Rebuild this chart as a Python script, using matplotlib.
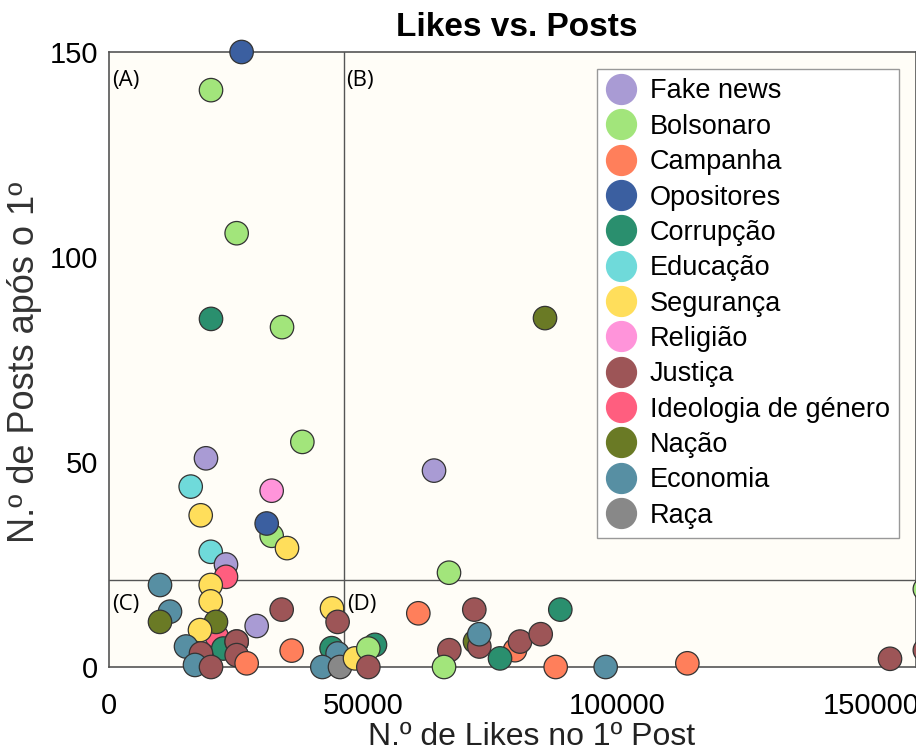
import matplotlib
matplotlib.use("Agg")
import matplotlib.pyplot as plt
from matplotlib.lines import Line2D

plt.rcParams['font.family'] = ['Liberation Sans', 'DejaVu Sans']

categories = ['Fake news', 'Bolsonaro', 'Campanha', 'Opositores', 'Corrupção', 'Educação',
              'Segurança', 'Religião', 'Justiça', 'Ideologia de género', 'Nação', 'Economia', 'Raça']
colors = ['#A99BD4', '#A2E57B', '#FF7F5B', '#3B5FA0', '#2A8F6E', '#6FDADA',
          '#FFDE5B', '#FF94DA', '#9D5557', '#FF5E7F', '#6A7A25', '#578FA3', '#888888']

# likes on first post, posts after first, topic (drawing order)
likes = [26100, 20080, 25130, 20080, 34060, 38060, 19090, 16080, 32020, 18050,
         32020, 31040, 35040, 20020, 23030, 23030, 10040, 20020, 20020, 12010,
         10040, 33990, 43900, 45000, 21200, 22500, 25130, 29070, 21060, 17910,
         15160, 25130, 25130, 27100, 18110, 16930, 20080, 35960, 43820, 45000,
         41990, 45470, 48430, 52360, 51050, 51050, 66930, 60890, 71910, 88840,
         66990, 65950, 72050, 72900, 72900, 79920, 80910, 76970, 84980, 87930,
         97770, 113850, 153740, 160600, 160600, 63980, 85830]
posts = [150, 140.7, 105.8, 84.9, 82.9, 54.9, 50.9, 44, 43, 37,
         32, 35, 29, 28.1, 25, 22, 20, 20, 16, 13.5,
         11, 14, 14.3, 11, 7.5, 4.5, 6.2, 10, 11, 9,
         5, 6.2, 2.9, 0.9, 3.3, 0.5, 0, 4, 4.6, 3.3,
         0, 0, 2.1, 5.4, 4.5, 0, 23, 13.1, 14, 14,
         4.1, 0, 6.2, 5, 8, 4.1, 6.2, 2.1, 8, 0,
         0, 0.9, 2, 4.1, 19, 47.9, 85.1]
topic = ['Opositores', 'Bolsonaro', 'Bolsonaro', 'Corrupção', 'Bolsonaro', 'Bolsonaro', 'Fake news',
         'Educação', 'Religião', 'Segurança', 'Bolsonaro', 'Opositores', 'Segurança', 'Educação',
         'Fake news', 'Ideologia de género', 'Economia', 'Segurança', 'Segurança', 'Economia',
         'Nação', 'Justiça', 'Segurança', 'Justiça', 'Ideologia de género', 'Corrupção', 'Justiça',
         'Fake news', 'Nação', 'Segurança', 'Economia', 'Justiça', 'Justiça', 'Campanha', 'Justiça',
         'Economia', 'Justiça', 'Campanha', 'Corrupção', 'Economia', 'Economia', 'Raça', 'Segurança',
         'Corrupção', 'Bolsonaro', 'Justiça', 'Bolsonaro', 'Campanha', 'Justiça', 'Corrupção',
         'Justiça', 'Bolsonaro', 'Nação', 'Justiça', 'Economia', 'Campanha', 'Justiça', 'Corrupção',
         'Justiça', 'Campanha', 'Economia', 'Campanha', 'Justiça', 'Justiça', 'Bolsonaro',
         'Fake news', 'Nação']

mean_likes = 46300
mean_posts = 21.2

cmap = dict(zip(categories, colors))

fig = plt.figure(figsize=(9.16, 7.51), dpi=100)
ax = fig.add_axes([109/916, 1-667/751, 1-109/916, (667-52)/751])
ax.set_facecolor('#FFFDF7')

ax.axvline(mean_likes, color='#555555', lw=1, zorder=1)
ax.axhline(mean_posts, color='#555555', lw=1, zorder=1)

ax.scatter(likes, posts, s=285, c=[cmap[t] for t in topic], edgecolors='#333333',
           linewidths=0.9, zorder=3, clip_on=False)

ax.set_xlim(0, 158860)
ax.set_ylim(0, 150)
ax.set_xticks([0, 50000, 100000, 150000])
ax.set_yticks([0, 50, 100, 150])
ax.tick_params(length=0, labelsize=21, pad=8)
ax.tick_params(axis='x', pad=18)
for s in ax.spines.values():
    s.set_color('#555555')
    s.set_linewidth(1.2)

# quadrant labels
for t, xx, yy in [('(A)', 0.004, 0.953), ('(B)', 0.294, 0.953), ('(C)', 0.004, 0.102), ('(D)', 0.295, 0.102)]:
    ax.text(xx, yy, t, transform=ax.transAxes, fontsize=16, family=['Open Sans', 'DejaVu Sans'],
            va='center', ha='left', zorder=2)

fig.text(517/916, 1-28/751, 'Likes vs. Posts', fontsize=24, fontweight='bold',
         ha='center', va='center')
fig.text(532/916, 1-737/751, 'N.º de Likes no 1º Post', fontsize=23,
         color='#222222', ha='center', va='center')
fig.text(25/916, 1-362/751, 'N.º de Posts após o 1º', fontsize=26, rotation=90,
         color='#333333', ha='center', va='center')

handles = [Line2D([], [], ls='', marker='o', markersize=21.5, markerfacecolor=c,
                  markeredgecolor=c, label=n) for n, c in zip(categories, colors)]
leg = ax.legend(handles=handles, loc='upper left', bbox_to_anchor=(597/916, 1-69/751),
                bbox_transform=fig.transFigure, fontsize=19.5, frameon=True, fancybox=False,
                borderaxespad=0, borderpad=0.35, labelspacing=0.345, handlelength=1.1,
                handletextpad=0.5, framealpha=1)
leg.get_frame().set_edgecolor('#999999')
leg.get_frame().set_facecolor('white')
leg.get_frame().set_linewidth(1)
leg.set_zorder(5)

plt.savefig('out.png', dpi=100)
